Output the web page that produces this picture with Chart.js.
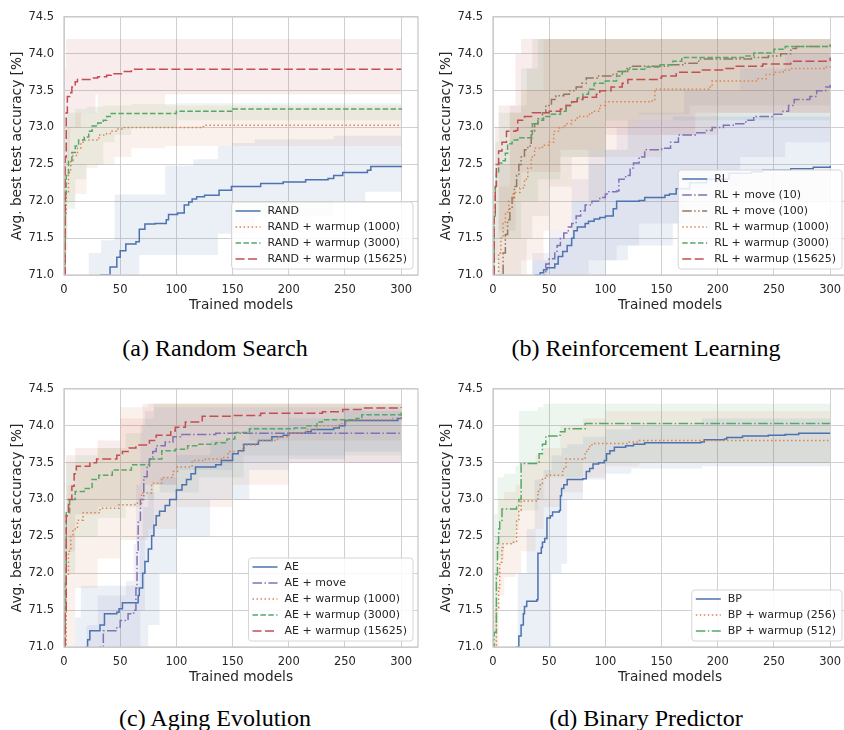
<!DOCTYPE html>
<html lang="en">
<head>
<meta charset="UTF-8">
<title>Search strategies: best test accuracy vs trained models</title>
<script src="https://cdn.jsdelivr.net/npm/chart.js"></script>
<style>
    body { margin: 0; width: 844px; height: 730px; overflow: hidden; background: #fff; position: relative; }
    canvas { position: absolute; }
    .caption {
        position: absolute; transform: translate(-50%, -50%); white-space: nowrap;
        font-family: "Liberation Serif", "Times New Roman", serif; font-size: 24px; color: #000;
    }
</style>
</head>
<body>
<canvas id="chartA" width="422" height="314" style="left:0;top:0"></canvas>
<canvas id="chartB" width="422" height="314" style="left:429px;top:0"></canvas>
<canvas id="chartC" width="422" height="314" style="left:0;top:372px"></canvas>
<canvas id="chartD" width="422" height="314" style="left:429px;top:372px"></canvas>
<div class="caption" style="left:215px;top:348px">(a) Random Search</div>
<div class="caption" style="left:646px;top:348px">(b) Reinforcement Learning</div>
<div class="caption" style="left:215px;top:718px">(c) Aging Evolution</div>
<div class="caption" style="left:646px;top:718px">(d) Binary Predictor</div>
<script>
// ---- axes ----
const xTicks = [0, 50, 100, 150, 200, 250, 300];
const yTicks = [71.0, 71.5, 72.0, 72.5, 73.0, 73.5, 74.0, 74.5];

// ---- (a) random search: mean steps [x, y], bands [x, lo, hi] ----
const randMean = [[0,69.5],[33,71.0],[41,71.11],[47,71.24],[50,71.33],[55,71.42],[64,71.45],[67,71.62],[72,71.69],[81,71.7],[91,71.75],[93,71.82],[101,71.84],[107,71.95],[111,71.99],[114,72.03],[118,72.06],[125,72.08],[138,72.15],[149,72.2],[175,72.24],[195,72.26],[215,72.29],[235,72.31],[240,72.35],[248,72.39],[270,72.42],[273,72.47],[300,72.48]];
const randW1000Mean = [[0,70.5],[1,71.8],[2,72.13],[4,72.39],[6,72.55],[8,72.62],[12,72.72],[15,72.8],[17,72.83],[29,72.83],[31,72.9],[38,72.92],[42,72.95],[48,72.98],[53,73.0],[123,73.0],[124,73.03],[300,73.03]];
const randW3000Mean = [[0,70.5],[1,72.04],[2,72.35],[4,72.55],[7,72.66],[10,72.75],[13,72.83],[18,72.87],[22,72.95],[25,73.02],[30,73.06],[35,73.1],[38,73.15],[42,73.19],[100,73.22],[150,73.25],[300,73.26]];
const randW15625Mean = [[0,70.5],[1,72.6],[2,73.2],[3,73.42],[5,73.47],[7,73.55],[10,73.62],[12,73.65],[25,73.67],[30,73.69],[38,73.71],[42,73.73],[52,73.76],[60,73.79],[300,73.79]];
const randBand = [[0,69,69],[22,69,71.3],[33,69,71.47],[45,69,72.09],[67,71.27,72.09],[90,71.27,72.48],[115,71.27,72.57],[137,71.56,72.75],[150,71.56,72.79],[170,71.8,72.84],[240,72.0,72.89],[268,72.13,72.89],[300,72.13,72.88]];
const randW1000Band = [[0,69,71.5],[1,71.5,72.6],[3,72.0,73.0],[10,72.1,73.2],[20,72.45,73.2],[30,72.5,73.45],[45,72.6,73.45],[60,72.72,73.45],[90,72.75,73.3],[300,72.75,73.3]];
const randW3000Band = [[0,69,72.0],[1,71.3,73.0],[3,71.9,73.2],[10,72.3,73.25],[20,72.5,73.28],[35,72.8,73.3],[45,72.9,73.3],[60,73.0,73.32],[100,73.1,73.33],[300,73.15,73.33]];
const randW15625Band = [[0,69,72.5],[1,71.5,73.8],[2,72.5,74.2],[5,73.0,74.2],[15,73.2,74.2],[28,73.45,74.2],[300,73.45,74.2]];

// ---- (b) reinforcement learning ----
const rlMean = [[0,69],[38,71.0],[42,71.03],[45,71.07],[48,71.1],[55,71.15],[58,71.25],[62,71.32],[66,71.4],[70,71.5],[72,71.6],[75,71.65],[82,71.7],[85,71.73],[90,71.76],[95,71.78],[100,71.8],[107,71.9],[110,72.0],[130,72.01],[135,72.05],[153,72.08],[157,72.1],[163,72.17],[175,72.25],[190,72.3],[210,72.38],[230,72.4],[240,72.42],[265,72.44],[285,72.46],[300,72.48]];
const rlMove10Mean = [[0,69],[45,71.0],[47,71.15],[50,71.22],[55,71.3],[57,71.4],[60,71.5],[63,71.57],[67,71.65],[70,71.7],[74,71.8],[78,71.87],[82,71.95],[88,72.0],[95,72.05],[100,72.1],[103,72.13],[110,72.14],[112,72.3],[118,72.35],[122,72.45],[125,72.52],[130,72.6],[135,72.7],[150,72.72],[158,72.8],[165,72.9],[180,72.93],[190,72.96],[195,73.0],[205,73.03],[215,73.05],[225,73.1],[232,73.15],[250,73.18],[258,73.22],[263,73.3],[268,73.38],[282,73.42],[288,73.5],[296,73.55],[300,73.58]];
const rlMove100Mean = [[0,69],[7,71.0],[9,71.3],[11,71.55],[13,71.75],[15,71.9],[17,72.05],[19,72.2],[21,72.35],[23,72.5],[25,72.6],[28,72.7],[31,72.75],[34,72.95],[37,73.05],[40,73.12],[44,73.2],[47,73.3],[52,73.38],[56,73.43],[63,73.45],[68,73.5],[74,73.55],[79,73.6],[83,73.67],[93,73.7],[105,73.72],[110,73.76],[118,73.8],[122,73.83],[158,73.85],[170,73.87],[183,73.93],[230,73.95],[245,73.97],[256,74.0],[265,74.07],[270,74.1],[300,74.12]];
const rlW1000Mean = [[0,69],[3,71.0],[5,71.3],[7,71.5],[9,71.7],[11,71.85],[14,72.0],[18,72.12],[24,72.18],[28,72.3],[31,72.45],[34,72.6],[37,72.72],[44,72.76],[50,72.8],[54,72.95],[59,73.0],[64,73.05],[70,73.1],[75,73.15],[84,73.18],[88,73.22],[95,73.3],[100,73.35],[140,73.36],[144,73.52],[192,73.55],[195,73.63],[235,73.66],[243,73.72],[250,73.75],[258,73.78],[265,73.8],[295,73.82],[300,73.84]];
const rlW3000Mean = [[0,70],[1,71.8],[2,72.2],[3,72.4],[5,72.52],[8,72.55],[11,72.65],[13,72.78],[17,72.83],[22,72.86],[33,72.86],[35,73.05],[40,73.1],[45,73.15],[52,73.18],[60,73.22],[65,73.3],[70,73.35],[75,73.4],[80,73.45],[85,73.52],[90,73.6],[100,73.63],[110,73.7],[115,73.76],[120,73.79],[135,73.82],[148,73.85],[160,73.9],[168,73.95],[225,73.97],[232,74.01],[250,74.06],[260,74.1],[300,74.13]];
const rlW15625Mean = [[0,70],[1,71.8],[2,72.2],[3,72.5],[5,72.68],[8,72.8],[12,72.95],[20,72.96],[22,73.1],[28,73.15],[35,73.2],[50,73.22],[60,73.25],[65,73.3],[70,73.35],[75,73.38],[80,73.41],[92,73.45],[95,73.5],[105,73.55],[115,73.6],[120,73.65],[146,73.67],[150,73.7],[163,73.75],[185,73.78],[205,73.8],[215,73.83],[240,73.86],[265,73.9],[298,73.91],[300,73.95]];
const rlBand = [[0,69,69],[20,69,71.0],[35,69,71.2],[50,69,71.5],[70,69,72.0],[85,71.0,72.5],[100,71.2,72.7],[120,71.4,73.1],[160,71.7,73.15],[200,72.0,73.15],[300,72.1,73.1]];
const rlMove10Band = [[0,69,69],[35,69,71.3],[50,69,71.6],[70,69,72.3],[85,71.2,72.7],[110,71.4,73.0],[130,71.7,73.2],[170,72.2,73.5],[220,72.6,73.8],[260,72.8,74.0],[300,73.0,74.1]];
const rlMove100Band = [[0,69,70],[5,69,72.5],[15,69,73.3],[30,71.5,73.8],[35,71.8,74.2],[50,72.2,74.2],[70,72.6,74.2],[100,73.0,74.2],[130,73.18,74.2],[175,73.3,74.2],[300,73.5,74.2]];
const rlW1000Band = [[0,69,70],[5,69,72.2],[15,70.5,73.2],[25,71.2,73.5],[45,71.6,74.2],[70,72.0,74.2],[100,72.6,74.2],[150,72.9,74.2],[200,73.2,74.2],[300,73.3,74.2]];
const rlW3000Band = [[0,69,71.5],[2,71.0,72.8],[5,71.5,73.2],[25,72.0,73.8],[40,72.3,74.2],[60,72.6,74.2],[100,73.1,74.2],[300,73.6,74.2]];
const rlW15625Band = [[0,69,71.5],[2,71.2,73.0],[5,71.6,73.3],[20,72.2,74.0],[25,72.4,74.2],[60,72.7,74.2],[100,72.9,74.2],[180,73.2,74.2],[300,73.4,74.2]];

// ---- (c) aging evolution ----
const aeMean = [[0,69],[20,71.0],[21,71.1],[23,71.22],[32,71.3],[36,71.45],[47,71.47],[49,71.52],[52,71.6],[64,71.6],[66,71.7],[67,71.8],[70,72.0],[72,72.16],[75,72.33],[78,72.51],[80,72.65],[82,72.78],[85,72.84],[90,72.92],[94,73.0],[100,73.13],[105,73.2],[109,73.27],[113,73.35],[117,73.44],[135,73.47],[140,73.53],[150,73.62],[155,73.66],[160,73.75],[173,73.8],[185,73.85],[195,73.87],[200,73.9],[215,73.92],[220,73.95],[240,73.97],[245,74.0],[250,74.07],[295,74.07],[297,74.1],[300,74.12]];
const aeMoveMean = [[0,69],[32,71.0],[35,71.22],[47,71.27],[50,71.36],[57,71.45],[62,71.5],[64,71.8],[65,72.29],[66,72.69],[68,73.0],[71,73.31],[74,73.45],[76,73.55],[79,73.65],[82,73.73],[90,73.78],[97,73.85],[105,73.88],[135,73.9],[300,73.9]];
const aeW1000Mean = [[0,69],[1,71.0],[2,71.97],[4,72.3],[6,72.5],[8,72.6],[12,72.72],[17,72.82],[32,72.88],[49,72.93],[63,72.95],[69,73.09],[78,73.22],[87,73.3],[97,73.38],[101,73.44],[114,73.53],[126,73.55],[140,73.57],[146,73.65],[159,73.74],[172,73.8],[190,73.85],[200,73.9],[215,73.95],[225,74.0],[245,74.03],[252,74.08],[290,74.1],[300,74.15]];
const aeW3000Mean = [[0,70],[1,71.9],[2,72.82],[5,73.0],[10,73.11],[18,73.15],[25,73.27],[31,73.33],[43,73.4],[60,73.47],[76,73.55],[87,73.66],[99,73.68],[110,73.73],[119,73.75],[135,73.77],[145,73.82],[152,73.91],[165,73.96],[205,73.97],[215,74.0],[225,74.05],[230,74.08],[260,74.1],[265,74.15],[300,74.18]];
const aeW15625Mean = [[0,70],[1,71.5],[2,72.78],[4,73.0],[7,73.18],[9,73.35],[11,73.45],[23,73.5],[29,73.55],[47,73.6],[52,73.65],[58,73.7],[64,73.74],[76,73.8],[82,73.87],[95,73.93],[99,73.98],[108,74.05],[123,74.13],[150,74.14],[175,74.17],[230,74.19],[248,74.22],[265,74.24],[300,74.25]];
const aeBand = [[0,69,69],[10,69,71.4],[15,69,71.83],[64,69,71.83],[67,69,72.5],[70,71.0,72.9],[75,71.3,73.1],[85,72.0,73.3],[100,72.5,73.6],[130,73.0,73.8],[165,73.4,74.0],[200,73.55,74.1],[250,73.65,74.2],[300,73.65,74.2]];
const aeMoveBand = [[0,69,69],[20,69,71.3],[30,69,71.7],[55,69,71.9],[62,69,72.4],[64,69,73.2],[68,71.5,74.0],[72,72.5,74.2],[80,73.2,74.25],[100,73.4,74.25],[150,73.5,74.25],[300,73.57,74.25]];
const aeW1000Band = [[0,69,71.5],[1,70,72.8],[3,71.0,73.2],[10,71.8,73.5],[30,72.2,73.7],[50,72.45,74.25],[75,72.6,74.3],[100,72.9,74.3],[150,73.2,74.3],[200,73.5,74.3],[300,73.6,74.3]];
const aeW3000Band = [[0,70,72.5],[2,72.0,73.5],[10,72.5,73.6],[30,72.75,73.7],[55,72.9,73.9],[70,73.0,74.1],[80,73.1,74.3],[120,73.3,74.3],[160,73.6,74.3],[300,73.85,74.3]];
const aeW15625Band = [[0,70,72.5],[2,72.3,73.6],[10,72.8,73.7],[30,72.9,73.8],[50,73.0,74.1],[70,73.2,74.3],[100,73.5,74.3],[150,73.8,74.3],[300,73.95,74.3]];

// ---- (d) binary predictor ----
const bpMean = [[0,69],[21,71.0],[23,71.15],[25,71.3],[27,71.45],[28,71.55],[30,71.62],[39,71.64],[40,72.27],[43,72.35],[44,72.42],[46,72.47],[48,72.75],[51,72.78],[53,72.83],[59,72.85],[60,73.05],[61,73.15],[63,73.2],[66,73.27],[80,73.28],[83,73.38],[86,73.42],[89,73.48],[94,73.5],[99,73.53],[101,73.62],[104,73.66],[108,73.71],[118,73.73],[125,73.75],[135,73.77],[185,73.78],[188,73.81],[206,73.82],[208,73.84],[222,73.86],[245,73.87],[260,73.88],[272,73.9],[300,73.9]];
const bpW256Mean = [[0,69],[2,71.0],[3,71.53],[5,71.8],[6,72.15],[8,72.35],[9,72.4],[18,72.42],[21,72.71],[23,72.85],[25,72.98],[38,72.98],[40,73.11],[42,73.2],[44,73.29],[48,73.33],[56,73.33],[62,73.42],[65,73.55],[80,73.56],[82,73.65],[85,73.72],[88,73.76],[120,73.78],[130,73.8],[300,73.8]];
const bpW512Mean = [[0,69],[1,71.2],[3,71.98],[4,72.4],[5,72.6],[6,72.7],[8,72.87],[21,72.9],[23,73.0],[25,73.49],[39,73.49],[41,73.62],[44,73.75],[47,73.86],[58,73.87],[60,73.92],[64,73.96],[82,74.03],[300,74.03]];
const bpBand = [[0,69,69],[18,69,71.0],[22,69,72.0],[30,69,72.6],[37,70.5,73.27],[45,71.0,73.4],[52,72.0,73.6],[61,72.13,73.7],[66,73.0,73.75],[80,73.27,73.85],[100,73.35,73.95],[123,73.42,74.0],[186,73.45,74.1],[300,73.5,74.15]];
const bpW256Band = [[0,69,71.5],[2,70.5,72.5],[5,71.7,73.0],[10,71.95,73.1],[20,72.0,73.2],[25,72.3,73.5],[38,72.6,73.6],[45,72.9,73.7],[60,73.1,74.0],[80,73.3,74.1],[100,73.45,74.2],[130,73.5,74.2],[300,73.55,74.2]];
const bpW512Band = [[0,69,72.0],[1,71.0,72.8],[4,72.2,73.3],[10,72.4,73.35],[20,72.6,73.45],[23,72.85,74.2],[40,73.0,74.25],[45,73.3,74.3],[80,73.5,74.3],[300,73.65,74.3]];

// seaborn "deep" colours and matplotlib-like dash patterns
const COLORS = { blue: '76,114,176', orange: '221,132,82', green: '85,168,104', red: '196,78,82', purple: '129,114,179', brown: '147,120,96' };
const DASH = { solid: [], dotted: [1.5, 2.5], dashed: [5.5, 2.4], longdash: [9, 3.5], dashdot: [9.6, 2.4, 1.5, 2.4], dashdotdot: [9.6, 2.4, 1.5, 2.4, 1.5, 2.4] };

Chart.defaults.font.family = "'DejaVu Sans', sans-serif";
Chart.defaults.color = '#262626';

// draws the four-sided axes frame on top of the lines
const framePlugin = {
    id: 'frame',
    afterDatasetsDraw(chart) {
        const { ctx, chartArea: a } = chart;
        ctx.save();
        ctx.strokeStyle = '#c8c8c8';
        ctx.lineWidth = 1.25;
        ctx.strokeRect(a.left, a.top, a.right - a.left, a.bottom - a.top);
        ctx.restore();
    }
};

// legend box in the lower right corner of the plot
const boxLegend = {
    id: 'boxLegend',
    afterDraw(chart) {
        const { ctx, chartArea: a } = chart;
        const items = chart.data.datasets.filter(d => d.inLegend);
        ctx.save();
        ctx.font = "11px 'DejaVu Sans'";
        const textW = Math.max(...items.map(d => ctx.measureText(d.label).width));
        const w = 4 + 25 + 7 + textW + 6;
        const h = 19 + (items.length - 1) * 16;
        const x = a.right - 5 - w;
        const y = a.bottom - 6 - h;
        ctx.beginPath();
        ctx.roundRect(x, y, w, h, 3);
        ctx.fillStyle = 'rgba(255,255,255,0.85)';
        ctx.fill();
        ctx.strokeStyle = '#d6d6d6';
        ctx.lineWidth = 1;
        ctx.stroke();
        items.forEach((d, i) => {
            const cy = y + 9 + i * 16;
            ctx.beginPath();
            ctx.setLineDash(d.borderDash);
            ctx.strokeStyle = d.borderColor;
            ctx.lineWidth = 1.5;
            ctx.moveTo(x + 4, cy);
            ctx.lineTo(x + 29, cy);
            ctx.stroke();
            ctx.setLineDash([]);
            ctx.fillStyle = '#262626';
            ctx.textBaseline = 'middle';
            ctx.fillText(d.label, x + 36, cy + 0.5);
        });
        ctx.restore();
    }
};

function meanSet(label, pts, color, dash, order) {
    return {
        label: label, inLegend: true,
        data: pts.map(p => ({ x: p[0], y: p[1] })),
        borderColor: 'rgb(' + COLORS[color] + ')', borderWidth: 1.5, borderDash: DASH[dash],
        pointRadius: 0, stepped: true, fill: false, order: order
    };
}

function bandSets(pts, color) {
    const common = { pointRadius: 0, stepped: true, borderWidth: 1, borderColor: 'rgba(0,0,0,0)', order: 20 };
    return [
        Object.assign({ data: pts.map(p => ({ x: p[0], y: p[2] })), fill: '+1', backgroundColor: 'rgba(' + COLORS[color] + ',0.11)' }, common),
        Object.assign({ data: pts.map(p => ({ x: p[0], y: p[1] })), fill: false }, common)
    ];
}

function makeChart(id, series) {
    const datasets = [];
    series.forEach((s, i) => datasets.push(meanSet(s[0], s[1], s[3], s[4], -i)));
    series.forEach(s => datasets.push(...bandSets(s[2], s[3])));
    return new Chart(document.getElementById(id), {
        type: 'line',
        data: { datasets: datasets },
        plugins: [framePlugin, boxLegend],
        options: {
            responsive: false,
            animation: false,
            layout: { padding: { top: 11, right: 4, left: 0, bottom: 0 } },
            plugins: { legend: { display: false }, tooltip: { enabled: false } },
            scales: {
                x: {
                    type: 'linear', min: 0, max: 315,
                    afterBuildTicks: s => { s.ticks = xTicks.map(v => ({ value: v })); },
                    afterFit: s => { s.height = 39; },
                    grid: { color: '#d0d0d0', lineWidth: 1, drawTicks: false },
                    border: { display: false },
                    ticks: { padding: 8, font: { size: 11.5 }, maxRotation: 0, autoSkip: false },
                    title: { display: true, text: 'Trained models', font: { size: 13.7 }, padding: { top: 0, bottom: 0 } }
                },
                y: {
                    min: 71, max: 74.5,
                    afterBuildTicks: s => { s.ticks = yTicks.map(v => ({ value: v })); },
                    afterFit: s => { s.width = 64; },
                    grid: { color: '#d0d0d0', lineWidth: 1, drawTicks: false },
                    border: { display: false },
                    ticks: { padding: 10, font: { size: 11.5 }, autoSkip: false, callback: v => v.toFixed(1) },
                    title: { display: true, text: 'Avg. best test accuracy [%]', font: { size: 13.7 }, padding: { top: 9, bottom: 0 } }
                }
            }
        }
    });
}

makeChart('chartA', [
    ['RAND', randMean, randBand, 'blue', 'solid'],
    ['RAND + warmup (1000)', randW1000Mean, randW1000Band, 'orange', 'dotted'],
    ['RAND + warmup (3000)', randW3000Mean, randW3000Band, 'green', 'dashed'],
    ['RAND + warmup (15625)', randW15625Mean, randW15625Band, 'red', 'longdash']
]);
makeChart('chartB', [
    ['RL', rlMean, rlBand, 'blue', 'solid'],
    ['RL + move (10)', rlMove10Mean, rlMove10Band, 'purple', 'dashdot'],
    ['RL + move (100)', rlMove100Mean, rlMove100Band, 'brown', 'dashdotdot'],
    ['RL + warmup (1000)', rlW1000Mean, rlW1000Band, 'orange', 'dotted'],
    ['RL + warmup (3000)', rlW3000Mean, rlW3000Band, 'green', 'dashed'],
    ['RL + warmup (15625)', rlW15625Mean, rlW15625Band, 'red', 'longdash']
]);
makeChart('chartC', [
    ['AE', aeMean, aeBand, 'blue', 'solid'],
    ['AE + move', aeMoveMean, aeMoveBand, 'purple', 'dashdot'],
    ['AE + warmup (1000)', aeW1000Mean, aeW1000Band, 'orange', 'dotted'],
    ['AE + warmup (3000)', aeW3000Mean, aeW3000Band, 'green', 'dashed'],
    ['AE + warmup (15625)', aeW15625Mean, aeW15625Band, 'red', 'longdash']
]);
makeChart('chartD', [
    ['BP', bpMean, bpBand, 'blue', 'solid'],
    ['BP + warmup (256)', bpW256Mean, bpW256Band, 'orange', 'dotted'],
    ['BP + warmup (512)', bpW512Mean, bpW512Band, 'green', 'dashdot']
]);
</script>
</body>
</html>
